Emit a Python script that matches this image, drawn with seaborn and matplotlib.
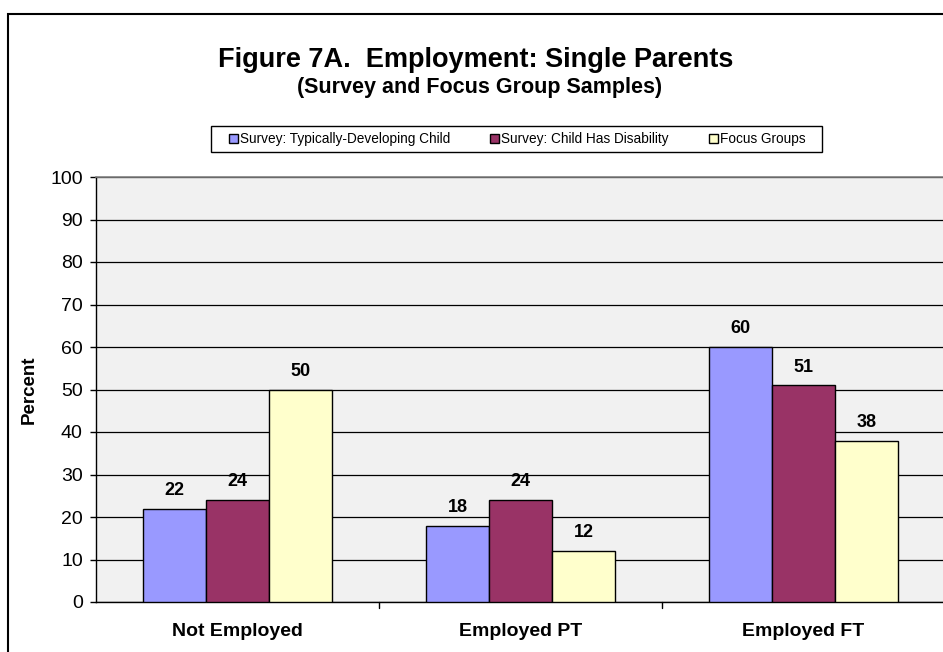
import matplotlib
matplotlib.use("Agg")
import matplotlib.pyplot as plt
from matplotlib.patches import Rectangle
import seaborn as sns
import pandas as pd

categories = ["Not Employed", "Employed PT", "Employed FT"]
series = ["Survey: Typically-Developing Child", "Survey: Child Has Disability", "Focus Groups"]
typical = [22, 18, 60]
disability = [24, 24, 51]
focus = [50, 12, 38]
colors = ["#9999FF", "#993366", "#FFFFCC"]
yticks = list(range(0, 101, 10))

rows = []
for name, vals in zip(series, [typical, disability, focus]):
    for cat, v in zip(categories, vals):
        rows.append({"Category": cat, "Series": name, "Percent": v})
df = pd.DataFrame(rows)

sns.set_theme(style="white")
plt.rcParams["font.family"] = ["Liberation Sans", "DejaVu Sans"]
plt.rcParams["text.color"] = "black"
plt.rcParams["axes.labelcolor"] = "black"
plt.rcParams["xtick.color"] = "black"
plt.rcParams["ytick.color"] = "black"

W, H = 943, 652
fig = plt.figure(figsize=(W / 100, H / 100), dpi=100)
ax = fig.add_axes([96 / W, 1 - 602 / H, 849 / W, 425 / H])

sns.barplot(data=df, x="Category", y="Percent", hue="Series", order=categories,
            hue_order=series, palette=colors, width=0.667, edgecolor="black",
            linewidth=1.0, saturation=1, ax=ax, zorder=3)

ax.set_facecolor("#F1F1F1")
ax.set_ylim(0, 100)
ax.set_xlim(-0.5, 2.5)
ax.set_yticks(yticks)
ax.set_yticklabels([str(t) for t in yticks], fontsize=14)
ax.yaxis.grid(True, color="black", linewidth=0.9, zorder=1)
ax.set_axisbelow(True)

# Category boundary ticks on the x axis
ax.set_xticks([0, 1, 2])
ax.set_xticklabels(categories, fontsize=14, fontweight="bold")
ax.tick_params(axis="x", length=0, pad=15)
for xb in [0.5, 1.5, 2.5]:
    ax.plot([xb, xb], [0, -1.4], color="black", linewidth=1, clip_on=False, zorder=4)
ax.tick_params(axis="y", length=4.5, width=1, color="black", direction="out", left=True, pad=5)

ax.spines["right"].set_visible(False)
ax.spines["top"].set_color("#808080")
ax.spines["top"].set_linewidth(1.2)
for side in ["left", "bottom"]:
    ax.spines[side].set_color("black")
    ax.spines[side].set_linewidth(1)

ax.set_xlabel("")
ax.set_ylabel("Percent", fontsize=13.5, fontweight="bold", labelpad=9)

for cont in ax.containers:
    ax.bar_label(cont, fmt="%d", padding=7, fontsize=13, fontweight="bold")

ax.legend_.remove()
handles = [Rectangle((0, 0), 1, 1, facecolor=c, edgecolor="black", linewidth=1) for c in colors]
leg = fig.legend(handles, series, loc="center", bbox_to_anchor=(517 / W, 1 - 139 / H),
                 ncol=3, fontsize=9.8, frameon=False,
                 handlelength=0.65, handleheight=0.65, handletextpad=0.15, columnspacing=2.95,
                 borderpad=0.3, borderaxespad=0)
# Legend frame
fig.patches.append(Rectangle((211 / W, 1 - 152 / H), 611 / W, 26 / H,
                             transform=fig.transFigure, fill=False,
                             edgecolor="black", linewidth=1))

fig.text(476 / W, 1 - 67 / H, "Figure 7A.  Employment: Single Parents",
         ha="center", va="baseline", fontsize=19.5, fontweight="bold")
fig.text(480 / W, 1 - 93 / H, "(Survey and Focus Group Samples)",
         ha="center", va="baseline", fontsize=15.5, fontweight="bold")

# Outer chart frame
fig.patches.append(Rectangle((8 / W, -0.05), 1.0, 1 - 14 / H + 0.05,
                             transform=fig.transFigure, fill=False,
                             edgecolor="black", linewidth=1.5))

fig.savefig("out.png", dpi=100)
